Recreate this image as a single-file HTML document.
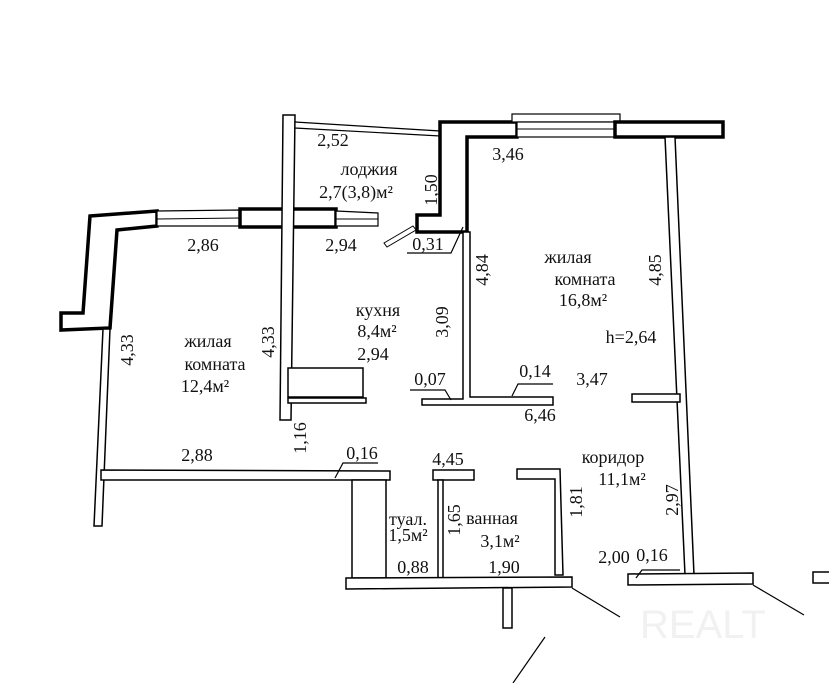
<!DOCTYPE html>
<html><head><meta charset="utf-8"><style>
html,body{margin:0;padding:0;background:#fff;width:829px;height:683px;overflow:hidden}
svg text{font-family:"Liberation Serif",serif;font-size:18px;fill:#111;text-anchor:middle}
</style></head><body>
<svg width="829" height="683" viewBox="0 0 829 683" xmlns="http://www.w3.org/2000/svg">
<g fill="#fff" stroke="#000" stroke-width="1.5">
<polygon points="90,216 157,211 157,226 117,230 110,328 61,330 61,313 83,313" stroke-width="3.5"/>
<polygon points="157,211 240,210 240,226 157,226" stroke-width="1.2"/>
<line x1="157" y1="219" x2="240" y2="218" stroke-width="1"/>
<rect x="240" y="209" width="96" height="18" stroke-width="3.5"/>
<polygon points="336,211 378,213 378,226 336,226" stroke-width="1.2"/>
<line x1="336" y1="219" x2="378" y2="219" stroke-width="1"/>
<polygon points="283,115 295,115 291,420 280,420"/>
<polygon points="295,122 440,131 440,136 295,128" stroke-width="1.2"/>
<polygon points="440,122 517,122 517,137 467,137 467,232 417,232 417,215 440,215" stroke-width="3.5"/>
<rect x="512" y="114" width="108" height="8" stroke-width="1.2"/>
<rect x="517" y="122" width="98" height="15" stroke-width="1.2"/>
<line x1="517" y1="129" x2="615" y2="129" stroke-width="1"/>
<rect x="615" y="122" width="108" height="15" stroke-width="3.5"/>
<polygon points="665,137 675,137 694,575 685,575"/>
<polygon points="103,329 110,329 102,526 94,526"/>
<polygon points="463,232 470,232 470,397 553,397 553,405 422,405 422,399 463,399"/>
<rect x="632" y="394" width="48" height="8"/>
<rect x="288" y="368" width="75" height="29"/>
<rect x="288" y="398" width="78" height="5"/>
<polygon points="101,470 390,471 390,480 101,480"/>
<polygon points="352,480 386,480 386,578 352,578"/>
<rect x="433" y="470" width="41" height="10"/>
<rect x="438" y="480" width="5" height="98"/>
<polygon points="517,469 560,469 563,575 555,575 555,479 517,479"/>
<polygon points="346,578 572,577 572,587 346,589"/>
<rect x="503" y="588" width="9" height="40"/>
<polygon points="628,574 753,573 753,584 628,585"/>
<rect x="813" y="572" width="20" height="11"/>
<polygon points="384,243 413,226 416,230 387,247" stroke-width="1"/>
</g>
<g stroke="#000" stroke-width="1.2" fill="none">
<line x1="572" y1="588" x2="620" y2="617"/>
<line x1="545" y1="637" x2="513" y2="683"/>
<line x1="753" y1="585" x2="804" y2="615"/>
<polyline points="407,253 451,253 463,227"/>
<polyline points="410,390 445,390 451,400"/>
<polyline points="553,384 518,384 512,396"/>
<polyline points="378,463 343,463 335,478"/>
<polyline points="680,570 642,570 636,578"/>
</g>
<g>
<text x="333" y="146">2,52</text>
<text x="369" y="175">лоджия</text>
<text x="356" y="198">2,7(3,8)м²</text>
<text transform="translate(437,190) rotate(-90)">1,50</text>
<text x="508" y="160">3,46</text>
<text x="203" y="251">2,86</text>
<text x="341" y="251">2,94</text>
<text x="428" y="250">0,31</text>
<text transform="translate(488,270) rotate(-90)">4,84</text>
<text x="568" y="263">жилая</text>
<text x="585" y="285">комната</text>
<text x="583" y="306">16,8м²</text>
<text transform="translate(661,270) rotate(-90)">4,85</text>
<text x="378" y="316">кухня</text>
<text x="377" y="337">8,4м²</text>
<text x="373" y="360">2,94</text>
<text transform="translate(448,322) rotate(-90)">3,09</text>
<text transform="translate(133,350) rotate(-90)">4,33</text>
<text transform="translate(274,342) rotate(-90)">4,33</text>
<text x="208" y="347">жилая</text>
<text x="215" y="370">комната</text>
<text x="205" y="392">12,4м²</text>
<text x="631" y="343">h=2,64</text>
<text x="430" y="385">0,07</text>
<text x="535" y="377">0,14</text>
<text x="592" y="385">3,47</text>
<text x="540" y="421">6,46</text>
<text transform="translate(306,438) rotate(-90)">1,16</text>
<text x="197" y="461">2,88</text>
<text x="362" y="459">0,16</text>
<text x="448" y="465">4,45</text>
<text x="613" y="463">коридор</text>
<text x="622" y="485">11,1м²</text>
<text transform="translate(678,500) rotate(-90)">2,97</text>
<text transform="translate(582,502) rotate(-90)">1,81</text>
<text x="408" y="525">туал.</text>
<text x="408" y="541">1,5м²</text>
<text transform="translate(460,520) rotate(-90)">1,65</text>
<text x="492" y="524">ванная</text>
<text x="500" y="547">3,1м²</text>
<text x="413" y="573">0,88</text>
<text x="504" y="573">1,90</text>
<text x="614" y="563">2,00</text>
<text x="652" y="561">0,16</text>
<text x="703" y="638" style="font-family:'Liberation Sans',sans-serif;font-size:40px;fill:#f1f1f1">REALT</text>
</g>
</svg>
</body></html>
